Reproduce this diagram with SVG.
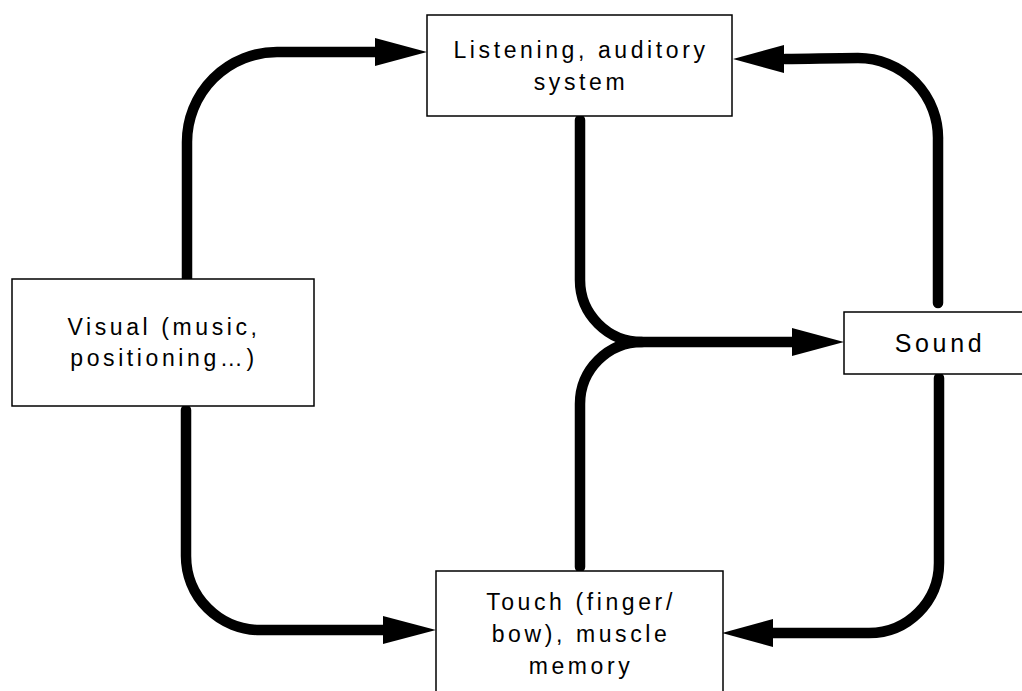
<svg xmlns="http://www.w3.org/2000/svg" width="1022" height="691" viewBox="0 0 1022 691">
<style>
.box{fill:#fff;stroke:#000;stroke-width:1.5}
.lbl{font-family:"Liberation Sans",Arial,sans-serif;font-size:23px;letter-spacing:3.6px;fill:#000;text-anchor:middle}
.big{font-size:25px}
.c{fill:none;stroke:#000;stroke-width:10.5;stroke-linecap:round;stroke-linejoin:round}
.ah{fill:#000;stroke:none}
</style>
<rect width="1022" height="691" fill="#fff"/>
<g id="connectors">
<path class="c" d="M187,279 V142 A90,90 0 0 1 277,52 H380"/>
<polygon class="ah" points="427,52 375,38 375,66"/>
<path class="c" d="M938,303 V140 A80,80 0 0 0 858,58 C830,58 810,59 785,59"/>
<polygon class="ah" points="733,59 784,45 784,73"/>
<path class="c" d="M580,120 V280 A62,62 0 0 0 642,342 H795"/>
<path class="c" d="M580,567 V404 A62,62 0 0 1 642,342"/>
<polygon class="ah" points="844,342 792,328 792,356"/>
<path class="c" d="M186,410 V556 A74,74 0 0 0 260,630 H386"/>
<polygon class="ah" points="436,630 383,616 383,644"/>
<path class="c" d="M939,378 V563 A70,70 0 0 1 869,633 H770"/>
<polygon class="ah" points="722,633 773,619 773,647"/>
</g>
<g id="node-listening">
<rect class="box" x="427" y="15" width="305" height="101"/>
<text class="lbl" x="581" y="58">Listening, auditory</text>
<text class="lbl" x="581" y="90">system</text>
</g>
<g id="node-visual">
<rect class="box" x="12" y="279" width="302" height="127"/>
<text class="lbl" x="164" y="335" letter-spacing="3.2">Visual (music,</text>
<text class="lbl" x="164" y="366">positioning…)</text>
</g>
<g id="node-sound">
<rect class="box" x="844" y="312" width="190" height="62"/>
<text class="lbl big" x="940" y="352">Sound</text>
</g>
<g id="node-touch">
<rect class="box" x="436" y="571" width="287" height="130"/>
<text class="lbl" x="581" y="610">Touch (finger/</text>
<text class="lbl" x="581" y="642">bow), muscle</text>
<text class="lbl" x="581" y="674">memory</text>
</g>
</svg>
